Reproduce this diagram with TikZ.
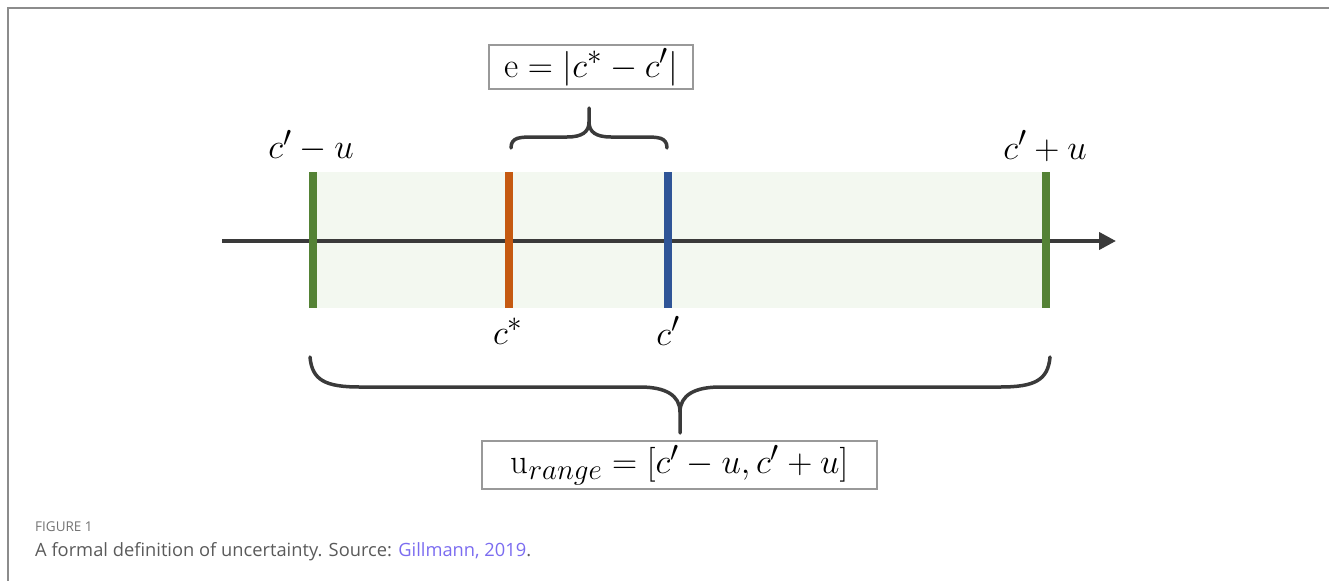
\documentclass[tikz,border=0pt]{standalone}
\usepackage{graphicx}
\usepackage{fontspec}
\setsansfont{Open Sans}
\usetikzlibrary{arrows.meta}
\definecolor{framegray}{HTML}{8C8C8C}
\definecolor{axisgray}{HTML}{3A3A3A}
\definecolor{bandgreen}{HTML}{F3F8F0}
\definecolor{barGreen}{HTML}{548235}
\definecolor{barOrange}{HTML}{C55A11}
\definecolor{barBlue}{HTML}{2F5597}
\definecolor{boxgray}{HTML}{999999}
\definecolor{capgray}{HTML}{5A5A5A}
\definecolor{figgray}{HTML}{737373}
\definecolor{linkcol}{HTML}{7B6CF0}
\newcommand{\mymath}[1]{\scalebox{1.4}{\Huge$#1$}}
\tikzset{
  bar/.style={line width=7.5pt},
  lbl/.style={inner sep=0pt},
  formbox/.style={draw=boxgray, line width=1.2pt, inner sep=0pt},
  bracepath/.style={draw=axisgray, line width=3.5pt, line cap=round}
}
\begin{document}
\begin{tikzpicture}[x=1pt,y=-1pt]
\useasboundingbox (0,0) rectangle (1329,581);
% frame
\draw[framegray, line width=2pt] (1329,8) -- (8,8) -- (8,581);
% shaded band
\fill[bandgreen] (313,172) rectangle (1046,308);
% axis
\coordinate (ax0) at (222,241);
\coordinate (ax1) at (1116,241);
\draw[axisgray, line width=4pt, -{Triangle[length=17pt,width=17pt]}] (ax0) -- (ax1);
% bars
\coordinate (gLt) at (313,172); \coordinate (gLb) at (313,308);
\coordinate (gRt) at (1046,172); \coordinate (gRb) at (1046,308);
\coordinate (oT) at (509,172); \coordinate (oB) at (509,308);
\coordinate (bT) at (668,172); \coordinate (bB) at (668,308);
\draw[bar, barGreen] (gLt) -- (gLb);
\draw[bar, barGreen] (gRt) -- (gRb);
\draw[bar, barOrange] (oT) -- (oB);
\draw[bar, barBlue] (bT) -- (bB);
% labels
\node[lbl] (lminus) at (311,146) {\mymath{c'-u}};
\node[lbl] (lplus) at (1045,146) {\mymath{c'+u}};
\node[lbl] (lstar) at (508,331) {\mymath{c^{*}}};
\node[lbl] (lprime) at (668,331) {\mymath{c'}};
% formula boxes
\node[formbox, minimum width=204pt, minimum height=44pt] (ebox) at (591,67) {\mymath{\mathrm{e}=|c^{*}-c'|}};
\node[formbox, minimum width=395pt, minimum height=48pt] (ubox) at (679.5,465) {\mymath{\mathrm{u}_{range}=[c'-u,c'+u]}};
% small brace
\coordinate (sL) at (511,148);
\coordinate (sR) at (667,148);
\coordinate (sTip) at (589,108);
\draw[bracepath] (sL) .. controls (511,137) and (520,137) .. (535,137) -- (567,137) .. controls (582,137) and (589,132) .. (589,122) -- (sTip);
\draw[bracepath] (sR) .. controls (667,137) and (658,137) .. (643,137) -- (611,137) .. controls (596,137) and (589,132) .. (589,122);
% big brace
\coordinate (bL) at (310,357);
\coordinate (bR) at (1050,357);
\coordinate (bTip) at (680,433);
\draw[bracepath] (bL) .. controls (312,380) and (325,387) .. (360,387) -- (640,387) .. controls (665,387) and (680,395) .. (680,412) -- (bTip);
\draw[bracepath] (bR) .. controls (1048,380) and (1035,387) .. (1000,387) -- (720,387) .. controls (695,387) and (680,395) .. (680,412);
% caption
\node[anchor=base west, inner sep=0pt, text=figgray, font=\sffamily\fontsize{13.5}{15}\selectfont] (fig) at (35,531) {FIGURE 1};
\node[anchor=base west, inner sep=0pt, text=capgray, font=\sffamily\fontsize{18.3}{20}\selectfont] (cap) at (35,556) {A formal definition of uncertainty. Source: \textcolor{linkcol}{Gillmann, 2019}.};
\end{tikzpicture}
\end{document}
